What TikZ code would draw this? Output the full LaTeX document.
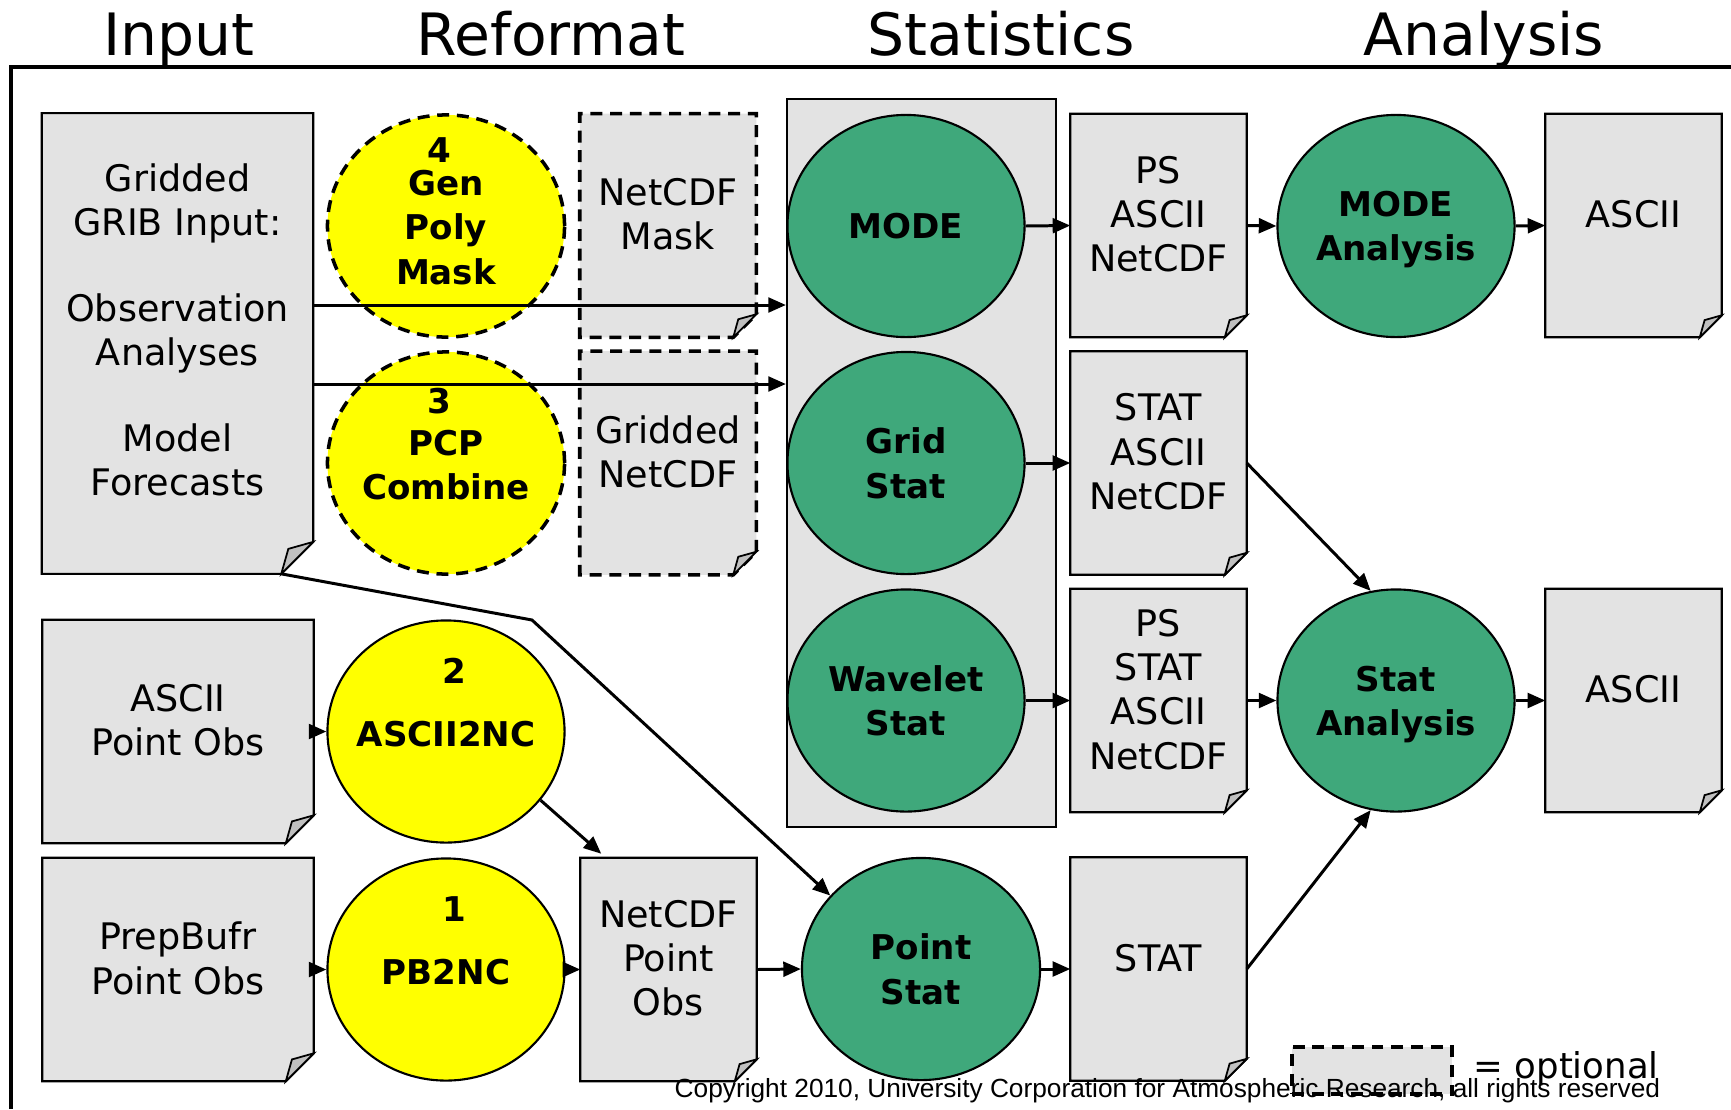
\documentclass[tikz,border=0pt]{standalone}
\usepackage{fontspec}
\setmainfont{DejaVu Sans}
\newfontfamily\copyfont{Liberation Sans}
\usetikzlibrary{shapes.geometric,arrows.meta,backgrounds}
\definecolor{docgrey}{RGB}{227,227,227}
\definecolor{foldgrey}{RGB}{192,192,192}
\definecolor{procgreen}{RGB}{63,168,123}
\definecolor{procyellow}{RGB}{255,255,0}
\begin{document}
\begin{tikzpicture}[x=0.01cm,y=-0.01cm,
  heading/.style={font=\fontsize{16.6}{20}\selectfont,anchor=base,inner sep=0pt},
  doc/.style={inner sep=0pt,align=center,minimum height=2.22cm,text depth=6.5pt,font=\fontsize{10.4}{12.6}\selectfont},
  wide/.style={doc,minimum width=2.7cm},
  slim/.style={doc,minimum width=1.75cm},
  docline/.style={fill=docgrey,draw=black,line width=0.6pt},
  optline/.style={docline,line width=1pt,dash pattern=on 3.4pt off 2.2pt},
  foldline/.style={fill=foldgrey,draw=black,line width=0.5pt},
  proc/.style={ellipse,draw=black,line width=0.6pt,minimum width=2.37cm,minimum height=2.22cm,inner sep=-4mm,align=center,text depth=0pt,font=\fontsize{9.7}{12.6}\selectfont\bfseries},
  reformat/.style={proc,fill=procyellow},
  optproc/.style={reformat,line width=1pt,dash pattern=on 3.4pt off 2.2pt},
  statproc/.style={proc,fill=procgreen},
  arr/.style={-{Triangle[length=5pt,width=4.2pt]},line width=0.85pt}]
  \useasboundingbox (0,0) rectangle (1731,1109);

  %headings
  \node[heading] (tinput) at (179,55) {Input};
  \node[heading] (treformat) at (551,55) {Reformat};
  \node[heading] (tstats) at (1001,55) {Statistics};
  \node[heading] (tanalysis) at (1484,55) {Analysis};
  \draw[line width=1.1pt] (11,1109) -- (11,67) -- (1731,67);

  %statistics background
  \node[docline,inner sep=0pt,minimum width=2.69cm,minimum height=7.28cm] (stats) at (921.5,463) {};

  %input
  \node[wide,minimum height=4.59cm,text depth=8pt] (grib) at (177.5,343.5) {Gridded\\GRIB Input:\\[11.8pt]Observation\\Analyses\\[11.8pt]Model\\Forecasts};
  \node[wide] (asciiobs) at (178,731.5) {ASCII\\Point Obs};
  \node[wide] (prepbufr) at (178,969.5) {PrepBufr\\Point Obs};

  %reformat
  \node[optproc,text depth=8.5pt] (genpoly) at (446,226) {\kern-1.3mm 4\\[-3.3pt]Gen\\Poly\\Mask};
  \node[optproc,text depth=11pt] (pcp) at (446,463) {\kern-1.3mm 3\\[-0.6pt]PCP\\Combine};
  \node[reformat,text depth=16.4pt] (ascii2nc) at (446,731.5) {2\kern-1.6mm\\[5.3pt]ASCII2NC};
  \node[reformat,text depth=16.4pt] (pb2nc) at (446,969.5) {1\kern-1.6mm\\[5.3pt]PB2NC};
  \node[slim] (mask) at (668,225.5) {NetCDF\\Mask};
  \node[slim] (gridnc) at (668,463) {Gridded\\NetCDF};
  \node[slim] (pointnc) at (668.5,969.5) {NetCDF\\Point\\Obs};

  %statistics
  \node[statproc] (mode) at (906,226) {MODE};
  \node[statproc] (gridstat) at (906,463) {Grid\\Stat};
  \node[statproc] (wavelet) at (906,700.5) {Wavelet\\Stat};
  \node[statproc,minimum width=2.38cm] (pointstat) at (921,969) {Point\\Stat};
  \node[slim] (psmode) at (1158.5,225.5) {PS\\ASCII\\NetCDF};
  \node[slim] (statgrid) at (1158.5,463) {STAT\\ASCII\\NetCDF};
  \node[slim] (pswave) at (1158.5,700.5) {PS\\STAT\\ASCII\\NetCDF};
  \node[slim] (statpoint) at (1158.5,969) {STAT};

  %analysis
  \node[statproc] (modeana) at (1396,226) {MODE\\Analysis};
  \node[statproc] (statana) at (1396,700.5) {Stat\\Analysis};
  \node[slim] (asciimode) at (1633.5,225.5) {ASCII};
  \node[slim] (asciistat) at (1633.5,700.5) {ASCII};

  %document outlines with folded corner
  \begin{scope}[on background layer]
    \foreach \n/\f in {grib/32,asciiobs/28,prepbufr/28,pointnc/22,psmode/22,statgrid/22,pswave/22,statpoint/22,asciimode/22,asciistat/22}{
      \path[docline] ([shift={(0,-\f)}]\n.south east) -- (\n.north east) -- (\n.north west) -- (\n.south west) -- ([shift={(-\f,0)}]\n.south east) -- cycle;
      \path[foldline] ([shift={(-\f,0)}]\n.south east) -- ([shift={(-0.78*\f,-0.78*\f)}]\n.south east) -- ([shift={(0,-\f)}]\n.south east) -- cycle;
    }
    \foreach \n in {mask,gridnc}{
      \path[optline] ([shift={(0,-23)}]\n.south east) -- (\n.north east) -- (\n.north west) -- (\n.south west) -- ([shift={(-23,0)}]\n.south east) -- cycle;
      \path[foldline] ([shift={(-23,0)}]\n.south east) -- ([shift={(-18,-18)}]\n.south east) -- ([shift={(0,-23)}]\n.south east) -- cycle;
    }
  \end{scope}

  %gridded input
  \coordinate (lvl1) at (0,305);
  \coordinate (lvl2) at (0,384);
  \coordinate (bend) at (532,620);
  \draw[arr] (grib.east |- lvl1) -- (stats.west |- lvl1);
  \draw[arr] (grib.east |- lvl2) -- (stats.west |- lvl2);
  \draw[arr] ([shift={(-32,0)}]grib.south east) -- (bend) -- (pointstat.141);

  %point observations
  \draw[arr] (asciiobs.east) -- (ascii2nc.west);
  \draw[arr] (ascii2nc.324) -- ([shift={(21,-4)}]pointnc.north west);
  \draw[arr] (prepbufr.east) -- (pb2nc.west);
  \draw[arr] (pb2nc.east) -- (pointnc.west);
  \draw[arr] (pointnc.east) -- (pointstat.west);

  %statistics outputs
  \draw[arr] (mode.east) -- (psmode.west);
  \draw[arr] (gridstat.east) -- (statgrid.west);
  \draw[arr] (wavelet.east) -- (pswave.west);
  \draw[arr] (pointstat.east) -- (statpoint.west);

  %analysis
  \draw[arr] (psmode.east) -- (modeana.west);
  \draw[arr] (modeana.east) -- (asciimode.west);
  \draw[arr] (statgrid.east) -- (statana.103);
  \draw[arr] (pswave.east) -- (statana.west);
  \draw[arr] (statpoint.east) -- (statana.257);
  \draw[arr] (statana.east) -- (asciistat.west);

  %legend
  \node[optline,inner sep=0pt,minimum width=1.6cm,minimum height=0.47cm] (legend) at (1372,1070.5) {};
  \node[anchor=base west,inner sep=0pt,font=\fontsize{10.1}{12}\selectfont] (legendtxt) at (1473,1078) {= optional};
  \node[anchor=base west,inner sep=0pt,font=\copyfont\fontsize{7.47}{9}\selectfont] (copyright) at (674,1097) {Copyright 2010, University Corporation for Atmospheric Research, all rights reserved};
\end{tikzpicture}
\end{document}
